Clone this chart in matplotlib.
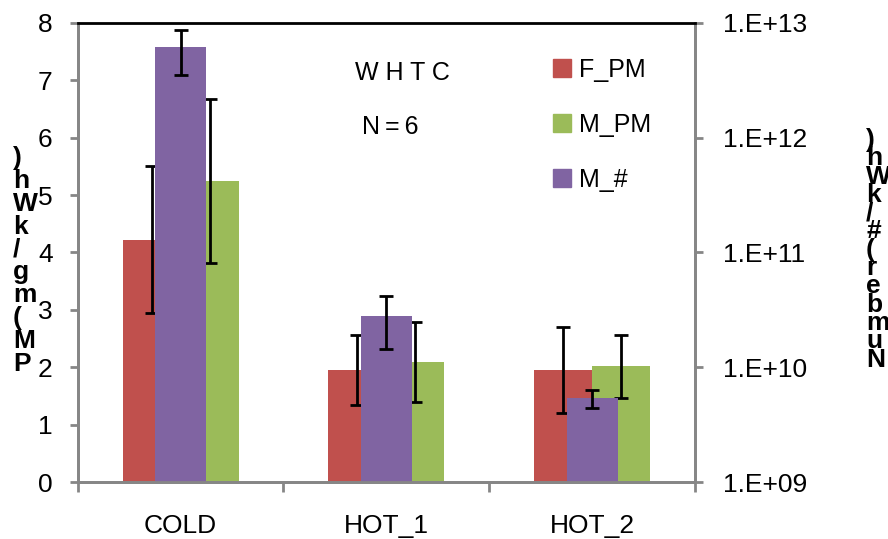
"""WHTC PM mass and particle number per cycle phase."""

import matplotlib.pyplot as plt
from matplotlib.patches import Patch
from matplotlib.ticker import FixedLocator, FuncFormatter
import numpy as np

plt.rcParams['font.family'] = ['Liberation Sans', 'DejaVu Sans']

phases = ['COLD', 'HOT_1', 'HOT_2']

# PM mass (mg/kWh), left axis
f_pm = [4.22, 1.96, 1.96]
f_pm_err = [1.28, 0.61, 0.75]
m_pm = [5.24, 2.09, 2.02]
m_pm_err = [1.43, 0.70, 0.55]

# particle number (#/kWh), right axis
m_num = [6.1e12, 2.8e10, 5.4e9]
m_num_err = [2.6e12, 1.35e10, 0.96e9]

RED = '#C0504D'
GREEN = '#9BBB59'
PURPLE = '#8064A2'
GREY = '#868686'
FS = 18
TICK_FS = 19
Y2_MIN = 1e9

fig = plt.figure(figsize=(8.88, 5.39), dpi=100)
ax = fig.add_axes([0.0875, 0.1052, 0.6952, 0.8527])
ax2 = ax.twinx()

x = np.arange(len(phases))
w = 0.282
wn = 0.248
ebar = dict(ecolor='black', elinewidth=2, capsize=5, capthick=2)

ax.bar(x - w / 2, f_pm, w, color=RED, yerr=f_pm_err, error_kw=ebar, zorder=2)
ax.bar(x + w / 2, m_pm, w, color=GREEN, yerr=m_pm_err, error_kw=ebar, zorder=2)

# log-scale bars start at the axis floor
ax2.set_yscale('log')
ax2.bar(x, np.array(m_num) - Y2_MIN, wn, bottom=Y2_MIN, color=PURPLE,
        zorder=2)
ax2.errorbar(x, m_num, yerr=m_num_err, fmt='none', zorder=3, **ebar)

ax.set_xlim(-0.5, 2.5)
ax.set_ylim(0, 8)
ax.set_yticks(range(0, 9))
ax2.set_ylim(Y2_MIN, 1e13)
ax2.yaxis.set_major_locator(FixedLocator([1e9, 1e10, 1e11, 1e12, 1e13]))
ax2.yaxis.set_minor_locator(FixedLocator([]))
ax2.yaxis.set_major_formatter(
    FuncFormatter(lambda v, p: f'1.E+{int(round(np.log10(v))):02d}'))

# category labels at centres, ticks at the boundaries
ax.set_xticks(x)
ax.set_xticklabels(phases)
ax.set_xticks([-0.5, 0.5, 1.5, 2.5], minor=True)
ax.tick_params(axis='x', which='major', length=0, pad=23, labelsize=TICK_FS)
ax.tick_params(axis='x', which='minor', length=7, width=2, color=GREY)
ax.tick_params(axis='y', length=6, width=2, color=GREY, pad=12,
               labelsize=TICK_FS)
ax2.tick_params(axis='y', length=6, width=2, color=GREY, pad=14,
                labelsize=TICK_FS)

for a in (ax, ax2):
    for s in ('left', 'right', 'bottom'):
        a.spines[s].set_color(GREY)
        a.spines[s].set_linewidth(2)
    a.spines['top'].set_visible(False)
ax2.spines['top'].set_visible(True)
ax2.spines['top'].set_color('black')
ax2.spines['top'].set_linewidth(2)

handles = [Patch(color=RED), Patch(color=GREEN), Patch(color=PURPLE)]
fig.legend(handles, ['F_PM', 'M_PM', 'M_#'], loc='upper left',
           bbox_to_anchor=(0.623, 0.893), frameon=False, fontsize=FS,
           handlelength=0.7, handleheight=0.7, handletextpad=0.35,
           labelspacing=1.24, borderpad=0, borderaxespad=0)

fig.text(402 / 888, 1 - 73 / 539, 'W H T C', ha='center', va='center',
         fontsize=FS)
fig.text(390 / 888, 1 - 127 / 539, 'N\u2009=\u20096', ha='center',
         va='center', fontsize=FS)

# axis titles come out as stacked glyphs in the original
fig.text(13 / 888, 1 - 146 / 539, '\n'.join(reversed('PM(mg/kWh)')),
         ha='left', va='top', fontsize=19, fontweight='bold',
         linespacing=0.94)
fig.text(866 / 888, 1 - 128 / 539, '\n'.join(reversed('Number(#/kWh)')),
         ha='left', va='top', fontsize=19, fontweight='bold',
         linespacing=0.7)

fig.savefig('out.png', dpi=100)
plt.close(fig)
